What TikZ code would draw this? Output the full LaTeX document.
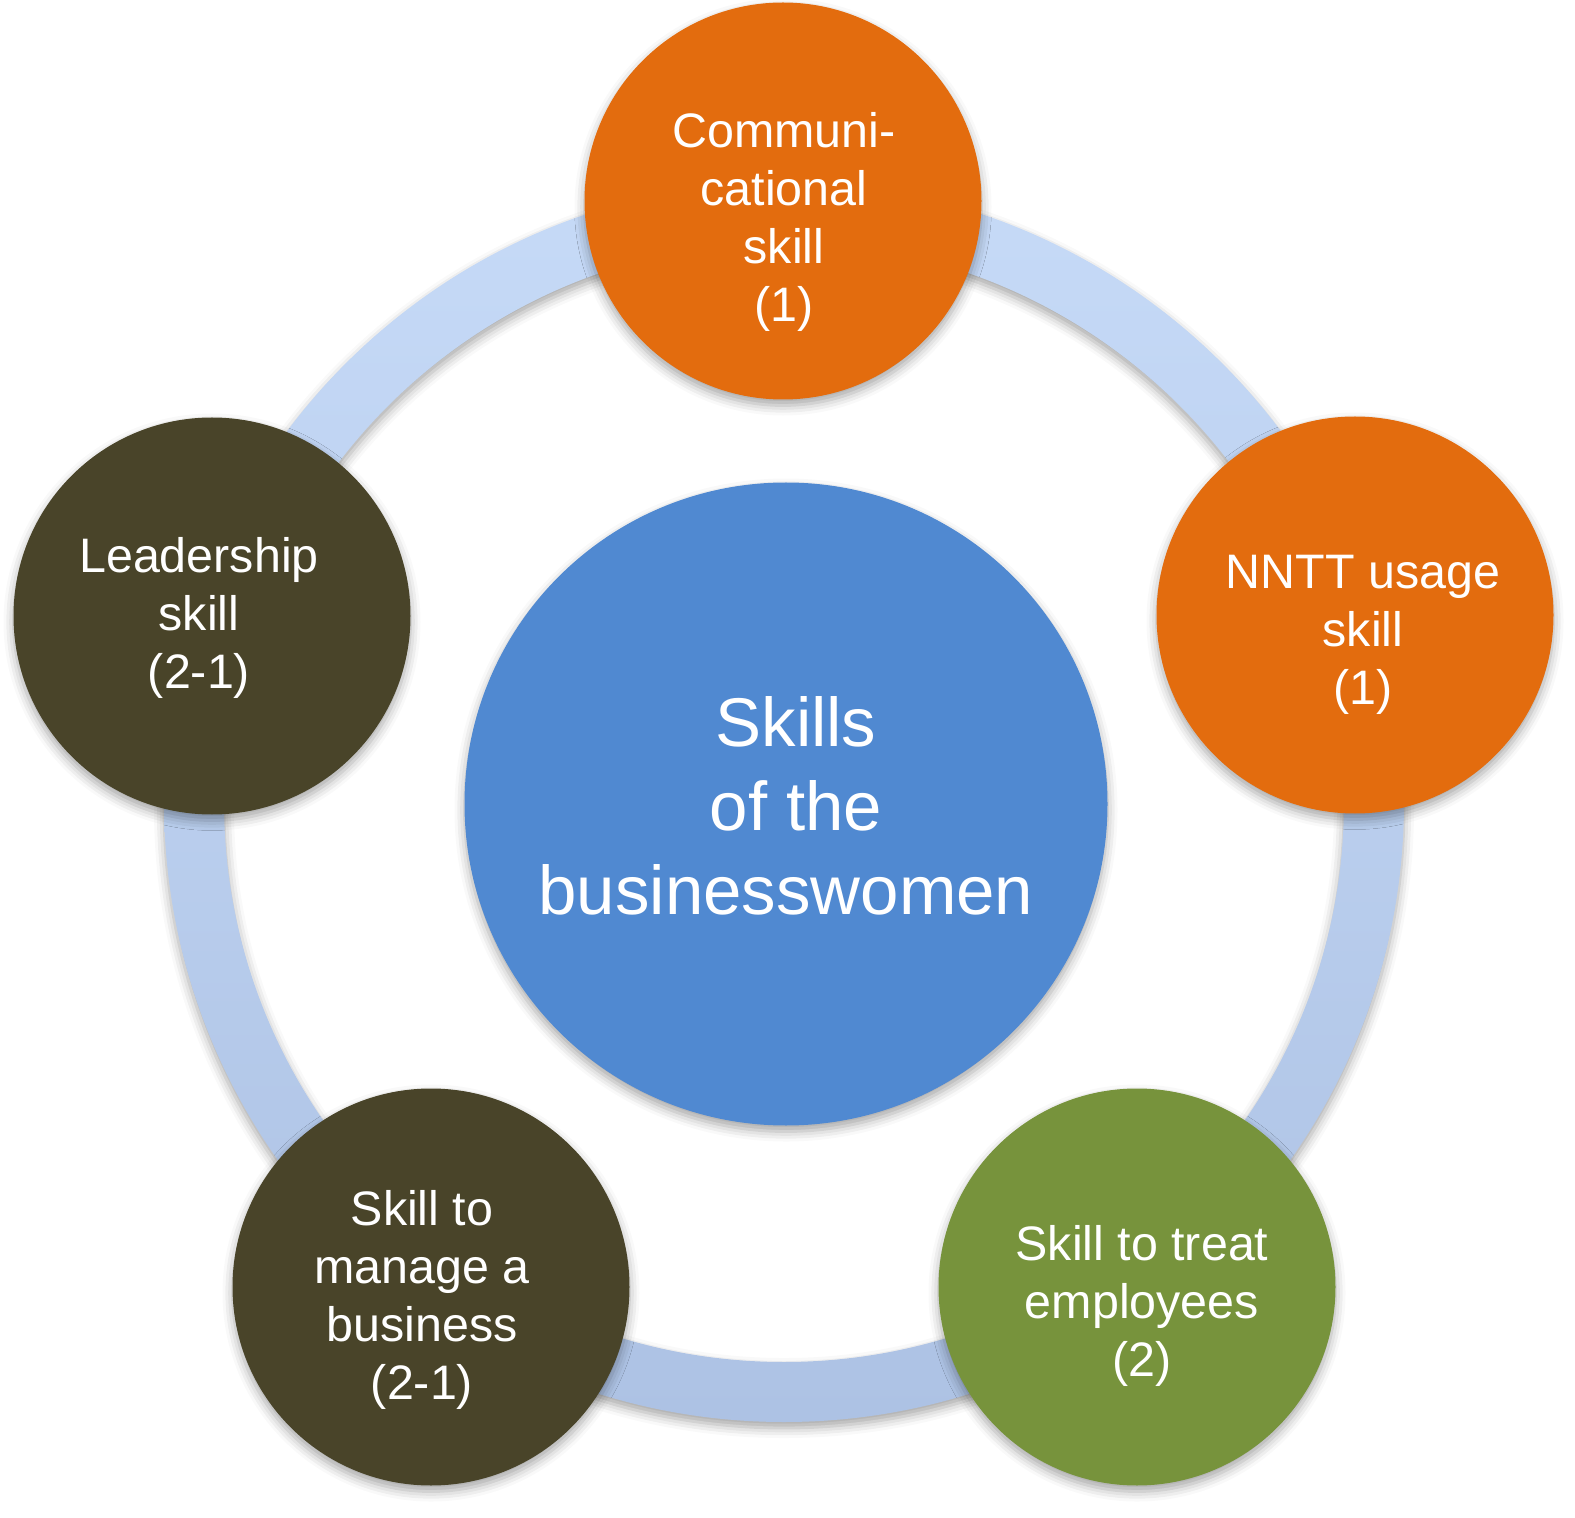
\documentclass[tikz,border=0pt]{standalone}
\usepackage{fontspec}
\setmainfont{Liberation Sans}
\usetikzlibrary{shadows.blur}
\definecolor{orng}{HTML}{E36C0E}
\definecolor{olive}{HTML}{494429}
\definecolor{grn}{HTML}{77933C}
\definecolor{hubblue}{HTML}{5089D1}
\definecolor{ringtop}{HTML}{C6DAF7}
\definecolor{ringbot}{HTML}{ADC2E4}
\begin{document}
\begin{tikzpicture}[x=0.5pt,y=-0.5pt,
  softshadow/.style={blur shadow={shadow xshift=0pt, shadow yshift=-3pt, shadow blur radius=5pt, shadow opacity=35}},
  bubble/.style={circle, minimum size=198.5pt, inner sep=0pt, softshadow},
  lbl/.style={text=white, align=center, font=\fontsize{24.2}{29}\selectfont},
  hublbl/.style={text=white, align=center, font=\fontsize{34.5}{42}\selectfont}]
\useasboundingbox (0,0) rectangle (1575,1518);
\coordinate (ringc) at (784,802);
\path[top color=ringtop, bottom color=ringbot, softshadow]
  ([xshift=310pt]ringc) arc[start angle=0, end angle=360, radius=310pt]
  -- ([xshift=280pt]ringc) arc[start angle=360, end angle=0, radius=280pt] -- cycle;
\node[bubble, fill=hubblue, minimum size=321.5pt] (hub) at (786,804) {};
\node[hublbl] (hubt) at (786,806) {\hspace*{10pt}Skills\\\hspace*{10pt}of the\\businesswomen};
\node[bubble, fill=orng] (c1) at (783,201) {};
\node[lbl] (t1) at (784,222) {Communi-\\cational\\skill\\(1)};
\node[bubble, fill=orng] (c2) at (1355,615) {};
\node[lbl] (t2) at (1363,635) {NNTT usage\\skill\\(1)};
\node[bubble, fill=grn] (c3) at (1137,1287) {};
\node[lbl] (t3) at (1142,1306) {Skill to treat\\employees\\(2)};
\node[bubble, fill=olive] (c4) at (431,1287) {};
\node[lbl] (t4) at (422,1300) {Skill to\\manage a\\business\\(2-1)};
\node[bubble, fill=olive] (c5) at (212,616) {};
\node[lbl] (t5) at (199,618) {Leadership\\skill\\(2-1)};
\end{tikzpicture}
\end{document}
